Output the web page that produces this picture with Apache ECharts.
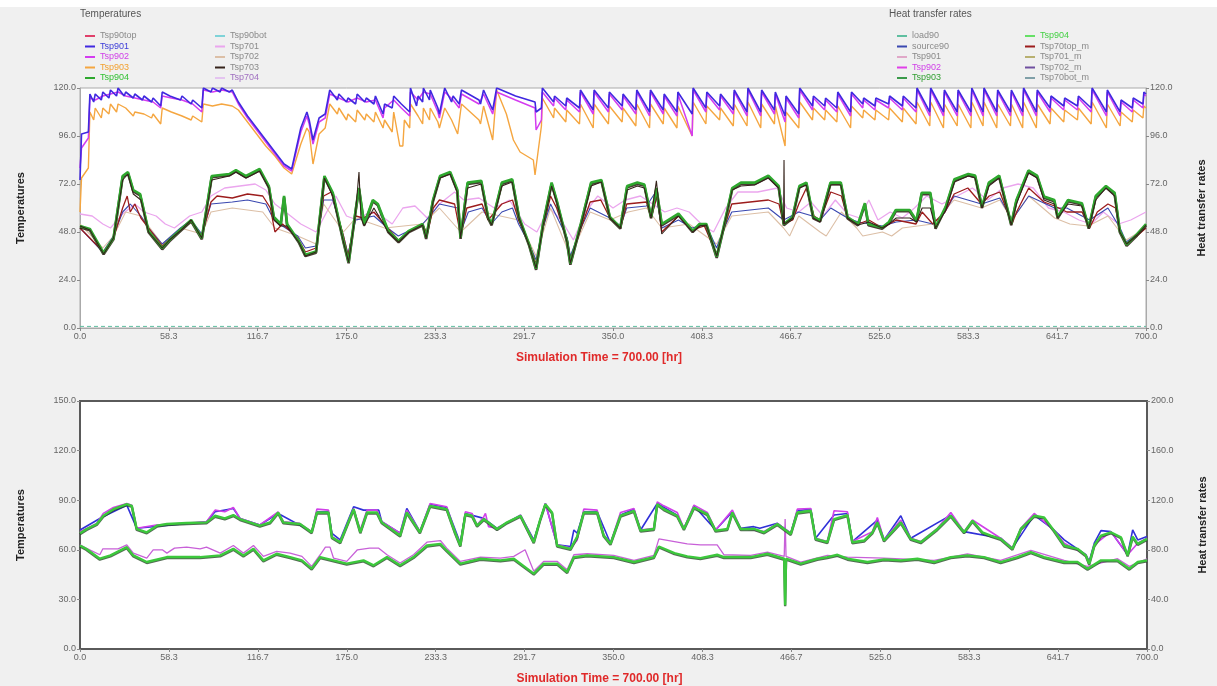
<!DOCTYPE html>
<html><head><meta charset="utf-8">
<script src="https://cdn.jsdelivr.net/npm/echarts@6/dist/echarts.min.js"></script>
<style>html,body{margin:0;padding:0;background:#f0f0f0}#c{width:1217px;height:686px}</style>
</head><body><div id="c"></div>
<script>
// ---------- axis ticks ----------
const xTicks = [0.0,58.3,116.7,175.0,233.3,291.7,350.0,408.3,466.7,525.0,583.3,641.7,700.0];
const topYTicks = [0,24,48,72,96,120];
const botYLeftTicks = [0,30,60,90,120,150];
const botYRightTicks = [0,40,80,120,160,200];

// ---------- TOP chart: upper group (irregular part, hours 0..300) ----------
const blueEarly = [[0,74],[1,97],[5.5,98],[6.5,117],[9,113],[10,117],[14,114],[15,118],[19,115],[20,119],[24,116],[25,120],[29,116],[30,118],[35,115],[36,117],[41,114],[42,116],[47,113],[48,115],[53,111],[54,118],[59,116],[60,117],[66,114],[67,116],[73,112],[74,114],[80,110],[81,120],[86,118],[87,120],[92,118],[93,120],[98,118],[100,119],[104,113],[110,106],[116,100],[122,94],[128,88],[134,82],[139,79.5],[145,100],[149,108],[150.5,104],[153,94],[157,105],[161,107],[164,119],[169,114],[170,117],[175,113],[176,115],[181,112],[182,117],[187,113],[188,115],[193,112],[194,116],[199,107],[200,112],[205,110],[206,116],[211,112],[216.5,108],[217,120],[221,111],[222,116],[225,113],[225.5,120],[229.5,114],[230,119],[235,110],[236,107],[239.5,120],[244,113],[245,116],[249,112],[250.5,119],[262,114],[263,112],[265,119],[271,109],[273.6,120],[286,116],[298.8,113],[299.5,108]];
const magentaEarly = [[0,80],[1,90],[5.5,95],[6.5,115],[10,114],[15,116],[20,117],[25,118],[30,116],[36,115],[42,114],[48,113],[53,110],[54,116],[60,115],[67,114],[74,112],[80,108],[81,119],[87,118],[93,119],[100,118],[104,112],[110,105],[116,99],[122,93],[128,87],[134,81],[139,78.5],[145,98],[149,106],[150.5,102],[153,92],[157,103],[161,105],[164,117],[170,115],[176,113],[182,115],[188,113],[194,114],[199,105],[200,110],[206,114],[211,110],[216.5,106],[217,118],[222,114],[225.5,118],[230,117],[235,108],[236,105],[239.5,118],[245,114],[249,110],[250.5,117],[262,112],[265,117],[271,107],[273.6,118],[286,114],[298.8,110],[299.5,99]];
const orangeEarly = [[0,58],[1,75],[5.5,80],[6.5,108],[9,104],[10,110],[14,105],[15,110],[19,107],[20,112],[24,108],[25,112],[30,110],[35,106],[36,108],[42,107],[47,105],[48,107],[53,102],[54,110],[60,108],[67,106],[73,104],[74,106],[80,103],[81,112],[87,111],[93,112],[100,111],[104,109],[110,103],[116,97],[122,91],[128,86],[134,80],[139,77],[145,92],[149,100],[150.5,98],[153,82],[157,97],[161,100],[164,112],[169,107],[170,110],[175,104],[176,107],[181,103],[182,109],[187,104],[188,107],[193,103],[194,108],[199,100],[200,104],[205,98],[206,108],[210,91],[212,91],[213,104],[216.5,100],[217,112],[222,106],[225,102],[225.5,110],[229.5,104],[230,110],[235,103],[236,100],[239.5,110],[244,104],[248,97],[249,103],[250.5,112],[262,104],[263,102],[265,111],[271,94],[273.6,119],[280,107],[284.6,94],[289,88],[297.7,84],[298.8,76.5]];

// ---------- TOP chart: upper group sawtooth (hours 303..700) ----------
const toothT = [303,311,319,328,337,347,356,365,374,383,392,402,411,420,429,438,447,456,463,472,481,489,497,506,514,522,531,540,549,558,567,576,585,593,602,611,619,628,637,646,655,664,674,683,691,698];
const blueHi = [120,116,115,119,119,118,117,119,119,117,118,120,118,117,119,120,119,118,116,120,116,115,118,118,115,115,116,116,120,120,119,119,120,120,119,119,120,119,116,115,116,120,119,114,115,118];
const blueLo = [110,113,111,110,109,110,111,109,108,109,108,107,110,111,109,108,108,109,106,107,111,111,110,108,112,111,112,111,110,108,108,108,108,108,108,108,108,108,110,111,111,110,108,108,110,112];
const magentaHi = [118,115,114,118,118,117,116,118,118,116,117,119,117,116,118,119,118,117,115,119,115,114,117,117,114,114,115,115,119,119,118,118,119,119,118,118,119,118,115,114,115,119,118,113,114,117];
const magentaLo = [104,111,109,108,107,108,109,107,106,107,106,96,108,109,107,106,106,107,103,105,109,109,108,106,110,109,110,109,108,106,106,106,106,106,106,106,106,106,108,109,109,108,106,106,108,110];
const orangeHi = [115,110,109,112,112,111,110,112,112,110,111,113,111,110,112,113,112,111,108,113,110,109,111,111,109,109,110,110,113,113,112,112,113,113,112,112,113,112,110,109,110,113,112,108,109,111];
const orangeLo = [101,105,103,102,100,102,103,101,100,102,100,96,102,104,101,101,100,102,91,100,104,104,103,100,105,104,104,103,102,101,100,101,100,101,100,101,100,100,102,103,104,102,100,101,103,105];
const blueTail = [[700,117]];
const magentaTail = [[700,116]];
const orangeTail = [[700,110]];

// ---------- TOP chart: middle group ----------
const greenMid = [[0,51],[6.5,49.5],[15.5,37.5],[22,45],[28,76],[31.5,78],[35,69],[39.5,67],[45,48.5],[54,40],[58.7,44],[66.5,49.5],[73,54],[80,45],[86.5,76],[98,77],[102.4,79],[109,76],[118,79.5],[124,71],[127.3,55.5],[131.8,52],[134,66],[136,52],[143.6,43.5],[148,36.6],[155,38.3],[160.5,76],[166,67.6],[173,43.5],[176.4,33],[181,59],[183.2,70],[186.6,52],[192.3,64],[195.6,62],[202.4,48.6],[209.2,43.5],[216,48.6],[225,52],[227.3,45.2],[231.8,64],[236.4,76],[243.1,78],[247.7,69.3],[249.9,45.2],[254.5,72.7],[263.5,73.6],[268,55.5],[270.3,52],[277,72.7],[283.8,74.4],[288.3,55.5],[295,41.7],[299.5,29.7],[304,52],[309.7,72.7],[313,64],[319.8,43.5],[322,32.3],[328.8,52],[335.6,72.7],[342.4,74],[348,55.5],[354.8,50.3],[359.3,71],[366,72.7],[370.6,71.8],[375,55.5],[378.5,70],[382,52],[393,57.2],[402.3,48.6],[406.8,52],[411.3,52],[418.1,35.7],[422.6,50.3],[428.3,70],[434,72.7],[443,72.7],[452,76.2],[458.8,71],[462.2,52],[467.9,55.5],[472.4,71],[477,72.7],[481.5,55.5],[486,53.8],[492.8,72.7],[499.6,72.7],[504,55.5],[510.9,52],[515.4,62.4],[517.7,52],[526.7,50.3],[531.2,53],[535.7,59],[544.8,59],[549.3,53.8],[552.7,67.6],[558.4,67.6],[561.8,50.3],[568.5,60.7],[574.2,74.4],[583.3,77],[587.8,76.2],[592.3,60.7],[596.8,72.7],[603.6,76.2],[611.5,52],[614.9,64],[622.8,78.8],[628.5,76.2],[633,65.8],[639.8,64],[642,55.5],[648.8,64],[657.9,62.4],[662.4,50.3],[667,66],[673.7,71],[679.4,67.6],[682.8,48.6],[687.3,41.7],[694.1,46.9],[700,52]];
const darkMid = [[0,51],[6.5,49],[15.5,37],[22,45],[28,74],[31.5,77],[35,67],[40,64],[45,48],[54,40],[58.7,44],[66.5,49],[73,54],[80,45],[86.5,74],[98,76],[102.4,78],[109,75],[118,78.5],[124,70],[127.3,54],[131.8,51],[136,51],[143.6,43],[148,36],[155,38],[160.5,75],[166,66],[173,43],[176.4,33],[181,58],[183.2,78],[184.5,55],[186.6,51],[193,60],[202.4,48],[209.2,43],[216,48],[225,51.5],[227.3,45],[231.8,63],[236.4,75],[243.1,77],[247.7,68],[249.9,45],[254.5,70],[263.5,72],[268,55],[270.3,51.5],[277,71],[283.8,73],[288.3,55],[295,41],[299.5,30],[304,51],[309.7,71],[313,63],[319.8,43],[322,32.5],[328.8,51],[335.6,71],[342.4,73],[348,55],[354.8,50],[359.3,69],[366,71],[370.6,70],[375,55],[378.5,73.6],[382,47],[393,56],[402.3,48],[406.8,51],[411.3,51.5],[418.1,36],[422.6,50],[428.3,69],[434,71],[443,71.5],[452,75],[458.8,70],[462,52],[462.3,84],[462.6,52],[467.9,55],[472.4,70],[477,71.5],[481.5,55],[486,53],[492.8,71.5],[499.6,71.5],[504,55],[510.9,51.5],[518,53],[526.7,50],[531.2,52],[536,55],[545,55],[549.3,53],[553,60],[558.4,60],[561.8,50],[568.5,59],[574.2,73],[583.3,76],[587.8,75],[592.3,60],[596.8,71],[603.6,75],[611.5,51.5],[614.9,62],[622.8,77.5],[628.5,75],[633,64],[639.8,62],[642,55],[648.8,62],[657.9,61],[662.4,50],[667,64],[673.7,70],[679.4,66],[682.8,48],[687.3,42],[694.1,46.5],[700,51.5]];
const redMid = [[0,50],[15.5,38],[22,45],[28,60],[31,66],[33,58],[36,62],[40,55],[45,50],[54,41],[66,49],[73,53],[80,46],[86,63],[90,66],[100,65],[110,67],[120,66],[125,60],[128,48],[133,52],[143,45],[148,38],[155,40],[160,66],[165,68],[173,46],[176,36],[181,56],[186,55],[193,58],[202,50],[209,44],[216,48],[225,52],[228,47],[232,60],[236,64],[246,62],[250,46],[254,60],[264,62],[268,54],[277,62],[284,64],[288,54],[295,42],[299.5,32],[304,50],[309,66],[313,60],[320,44],[322,34],[329,50],[335,63],[342,64],[348,55],[355,50],[359,62],[372,63],[375,55],[379,66],[382,48],[393,56],[402,49],[410,51],[418,37],[423,50],[428,62],[452,64],[459,62],[462,52],[468,54],[472,62],[477,70],[482,56],[486,54],[493,68],[500,66],[504,55],[511,52],[518,54],[527,50],[536,54],[549,52],[553,58],[560,52],[568,58],[574,67],[583,70],[592,62],[597,66],[604,68],[612,52],[615,58],[623,70],[633,63],[640,61],[648,58],[658,58],[663,50],[668,58],[675,62],[680,60],[683,48],[687,42],[694,46],[700,50]];
const navyMid = [[0,50],[15,38],[22,46],[28,58],[33,62],[40,56],[45,50],[54,42],[66,50],[73,54],[80,47],[86,62],[100,63],[110,64],[122,62],[126,56],[131,52],[143,46],[148,40],[155,41],[160,64],[166,64],[173,46],[176,37],[181,54],[193,56],[202,50],[209,46],[225,52],[232,58],[236,62],[248,60],[250,48],[255,58],[264,60],[270,52],[277,58],[284,60],[288,52],[295,42],[299.5,34],[304,50],[309,62],[320,45],[322,36],[329,50],[335,60],[348,55],[355,51],[359,60],[372,61],[378,68],[382,50],[393,54],[402,50],[411,52],[418,40],[423,50],[428,58],[452,60],[462,54],[472,58],[481,56],[486,54],[493,60],[504,55],[511,53],[527,51],[536,53],[549,54],[560,52],[568,58],[574,66],[592,62],[604,65],[612,54],[623,66],[640,60],[648,60],[663,54],[675,60],[683,50],[687,43],[700,50]];
const pinkMid = [[0,57],[8,56],[15,52],[20,50],[28,57],[36,62],[42,58],[50,56],[56,52],[62,50],[72,56],[80,58],[86,66],[95,70],[105,71],[115,72],[122,69],[128,62],[135,58],[145,52],[155,48],[162,58],[168,66],[175,56],[182,54],[190,58],[198,56],[205,52],[212,60],[220,61],[228,55],[236,62],[246,68],[252,64],[262,65],[272,60],[282,64],[292,52],[300,48],[308,60],[316,54],[324,44],[332,58],[340,66],[350,60],[358,64],[368,66],[376,62],[384,58],[392,60],[400,58],[408,52],[416,48],[424,60],[432,68],[445,68],[458,70],[464,60],[472,58],[480,63],[488,56],[496,64],[504,57],[512,55],[518,64],[524,54],[532,58],[540,55],[548,60],[556,66],[566,62],[576,66],[586,70],[596,64],[606,70],[616,72],[626,70],[636,60],[646,58],[656,54],[664,52],[672,58],[682,52],[690,54],[700,58]];
const tanMid = [[0,52],[15,40],[22,46],[30,58],[40,56],[54,42],[66,50],[80,47],[86,58],[100,60],[120,58],[128,50],[143,46],[155,42],[160,62],[173,48],[181,55],[200,50],[225,52],[236,60],[250,48],[264,58],[288,54],[299.5,36],[309,60],[322,36],[335,58],[348,54],[360,58],[372,60],[382,50],[400,52],[418,42],[428,56],[452,58],[462,50],[466,46],[472,56],[486,48],[490,46],[500,58],[510,50],[514,46],[527,48],[533,46],[540,50],[560,52],[574,64],[592,60],[604,64],[612,54],[623,66],[640,55],[650,52],[662,51],[675,56],[687,44],[700,50]];
const loadTop = [[0,0.8],[700,0.8]];

// ---------- BOTTOM chart ----------
const greenUpper = [[0,70],[4.4,72.6],[11,75.6],[15.3,80.6],[21.9,84.6],[30.7,87.6],[34,86.6],[37.2,72.6],[43.8,70.6],[50.4,74.6],[57,75.6],[70,76.2],[83,76.6],[88.6,80.6],[95,79],[100.6,81],[105,78.6],[118,74.6],[124.8,76.6],[130,82.6],[133.4,76.6],[144.4,75.6],[152,70.6],[155.4,82.6],[163,82.6],[165.3,67.6],[170.7,64.6],[179.5,84.6],[183.9,70.6],[188.3,82.6],[194.8,82.6],[198,76.6],[210,68.6],[214.4,82.6],[223,70.6],[229.7,86.6],[240.6,84.6],[246,70.6],[249.5,62.6],[252.8,81.6],[257.2,80.6],[260.5,74.6],[264.9,78.6],[273.6,72.6],[280.2,76.6],[289,80.6],[297.7,64.6],[302,78.6],[305.3,87.6],[309.7,82.6],[313,62.6],[321.8,60.6],[326.2,68],[330.5,82.6],[339.3,82.6],[343.6,68.6],[348,63.6],[354.6,80.6],[363.4,83.6],[367.8,71.6],[376.5,72.6],[378.7,87.6],[383,84.6],[391.8,80.6],[396.2,72.6],[402.8,85.6],[411.5,81.6],[417,71.6],[424.7,72.6],[428,82.6],[433.4,72.6],[442.2,72.6],[448.8,70.6],[457.5,75.6],[466.3,69.6],[470.6,82.6],[479.4,83.6],[482.6,66.6],[490.3,64.6],[494.7,78.6],[503.5,81],[506.7,64.6],[514.4,65.6],[519.9,70.6],[523.1,76.6],[527.5,65.6],[538.5,76.6],[545,66.6],[551.6,64.6],[562.5,72.6],[571.3,80.6],[580,70.6],[585.5,77.6],[592,70.6],[597.5,68.6],[604,66.6],[611.7,60.6],[617.2,72.6],[626,80.6],[632.5,79.6],[639,71.6],[645.7,62.6],[654.4,60.6],[659.9,56.6],[662.1,51.6],[665.4,62.6],[669.8,68.6],[676.3,70.6],[682.9,67.6],[687.3,56.6],[690.6,68],[693.9,63.6],[700,66.6]];
const magentaUpper = [[0,71],[11,76],[15.3,82],[21.9,85.6],[30.7,88],[34,87],[37.2,73],[50,75],[83,77],[88.6,84],[95,83],[100.6,85.6],[105,79],[118,75],[130,83],[133.4,77],[144,76],[152,71],[155.4,84.6],[163,84],[165.3,68],[170.7,65],[179.5,85],[183.9,72],[188.3,84],[194.8,84],[198,77],[210,70],[214.4,84],[223,71],[229.7,88],[240.6,86],[246,71],[249.5,63],[252.8,83],[257.2,82],[260.5,75],[264.9,80],[266,82],[268,74],[273.6,73],[289,81],[297.7,65],[305.3,88],[313,63],[321.8,61],[326.2,66],[330.5,84.6],[339.3,84],[343.6,69],[348,64],[354.6,82.6],[363.4,85],[367.8,72],[376.5,73],[378.7,89],[383,86.6],[391.8,82.6],[396.2,73],[402.8,87],[411.5,82.6],[417,72],[428,84],[433.4,73],[448.8,71],[457.5,76],[466.3,70],[470.6,84.6],[479.4,85],[482.6,67],[490.3,65],[494.7,83.6],[503.5,83],[506.7,65],[519.9,71],[523.1,79.6],[527.5,66],[538.5,78],[545,67],[551.6,65],[562.5,73],[571.3,82.6],[580,71],[585.5,78],[604,67],[611.7,61],[617.2,73],[626,82],[639,72],[645.7,64],[659.9,57],[662.1,52],[665.4,63],[676.3,71],[687.3,57],[693.9,64],[700,67]];
const blueUpper = [[0,72],[15,80],[30.7,87],[37.2,73],[83,77],[88.6,83],[100.6,85],[105,79],[118,75],[130,82],[152,71],[155.4,83],[163,83],[165.3,70],[170.7,66],[179.5,86],[186,84],[188.3,84],[196,84],[198,77],[210,70],[214.4,85],[223,71],[229.7,87.6],[240.6,85.6],[249.5,64],[252.8,82],[264.9,79],[273.6,73],[289,81],[297.7,66],[305.3,88],[313,63],[321.8,62],[324,72],[326.2,70],[330.5,83],[339.3,83],[348,64],[354.6,81],[363.4,84.6],[367.8,72],[378.7,88],[391.8,81],[396.2,73],[402.8,86.6],[417,72],[428,83],[433.4,73],[442,74],[446,73],[457.5,76],[466.3,70],[470.6,83.6],[479.4,84.6],[482.6,67],[494.7,81],[503.5,82],[506.7,65],[523.1,78],[527.5,66],[538.5,80.6],[545,67],[571.3,81],[580,71],[604,67],[611.7,61],[626,81],[639,72],[645.7,66],[659.9,57],[662.1,53],[665.4,64],[669.8,71.6],[676.3,71],[687.3,57],[690.6,72],[693.9,66],[700,68]];
const greenLower = [[0,62.6],[4,60.6],[13,54.6],[20,56.6],[30.7,61.6],[35,56.6],[43.8,52.6],[57,55.6],[78.8,55.6],[92,56.6],[100.6,60.6],[107.2,56.6],[113.8,60.6],[120.3,53.6],[129,57.6],[137.8,55.6],[145.6,53.6],[152,48.6],[157.6,55.6],[166.3,53.6],[175,51.6],[186,53.6],[192.6,50.6],[201.4,55.6],[210,50.6],[218.8,55.6],[227.6,62.6],[236.4,63.6],[240.6,59.6],[249.5,51.6],[262.7,54.6],[275.8,53.6],[284.6,54.6],[297.7,45.6],[304.2,51.6],[313,51.6],[319.6,46.6],[324,55.6],[332.7,56.6],[350.2,55.6],[363.4,52.6],[376.5,55.6],[379.8,62],[390,58],[398.4,56],[407,55],[418,57],[422.5,55.6],[440,55.6],[451,57.6],[462,54.6],[462.6,26.5],[463.2,54.6],[472.8,51.6],[483.7,54.6],[490.3,55.6],[496.9,57],[503.5,54.6],[516.6,52.6],[527.5,54.2],[538.5,53.6],[549.4,54.6],[560.3,52.6],[571.3,55.6],[582.2,56.6],[593.1,55.6],[604,52.6],[615,55.6],[623.8,58.6],[632.5,55.6],[645.7,52.6],[654.4,52.6],[661,48.6],[669.8,53.6],[680.7,53.6],[688.4,48.6],[693.9,52.6],[700,53.6]];
const magentaLower = [[0,63],[4,61],[13,57],[15,60.6],[25,60.6],[30.7,63],[35,58],[43.8,55],[48,60],[54,60],[57,58],[62,61],[70,61.6],[78.8,60.6],[83,61.6],[92,58],[100.6,62.6],[107.2,58],[113.8,62.6],[120.3,56],[129,59],[137.8,58],[145.6,56],[152,50],[157.6,57],[161,61.6],[164,61.6],[166.3,55],[175,53],[182,60],[190,61],[196,61],[201.4,57],[210,52],[218.8,57],[227.6,64.6],[236.4,65.6],[240.6,61],[249.5,53],[262.7,55.6],[275.8,55],[284.6,56],[292,60],[297.7,47],[304.2,53],[313,53],[319.6,48],[324,57],[332.7,57.6],[350.2,56.6],[363.4,53.6],[376.5,56.6],[379.8,66.6],[398.4,63.6],[407,63],[418,63],[422.5,57],[440,56.6],[451,58.6],[462,56],[462.6,78.6],[463.2,56],[472.8,52.6],[490.3,56.6],[503.5,55.6],[527.5,55],[560.3,53.6],[582.2,57.6],[604,53.6],[623.8,59.6],[645.7,53.6],[661,50],[680.7,54.6],[688.4,50],[700,54.6]];

// ---------- build ----------
function withTeeth(early, tt, lo, hi, tail) {
  const d = early.slice();
  for (let i = 0; i < tt.length; i++) { d.push([tt[i], lo[i]]); d.push([tt[i] + 0.6, hi[i]]); }
  return d.concat(tail);
}
const fmt1 = v => Number(v).toFixed(1);

function ln(name, data, color, width, xi, yi, extra) {
  return Object.assign({
    name, type: 'line', data, xAxisIndex: xi, yAxisIndex: yi,
    showSymbol: false, symbol: 'none', animation: false, silent: true,
    itemStyle: { color }, lineStyle: { color, width }
  }, extra || {});
}

const series = [
  ln('Tsp90top', [], '#e0406a', 1.5, 0, 0),
  ln('Tsp90bot', [], '#7fd3d8', 1.5, 0, 0),
  ln('Tsp704', [], '#e4c4f0', 1.5, 0, 0),
  ln('Tsp701', pinkMid, '#eba6ee', 1.3, 0, 0),
  ln('Tsp702', tanMid, '#dcbfa6', 1.1, 0, 0),
  ln('source90', navyMid, '#3a48b0', 1.1, 0, 1),
  ln('Tsp70top_m', redMid, '#9c1c1c', 1.3, 0, 1),
  ln('Tsp904', greenMid, '#2ea82e', 2.6, 0, 0, { lineStyle: { color: '#2ea82e', width: 2.6, shadowColor: 'rgba(40,25,15,0.85)', shadowBlur: 0, shadowOffsetY: 1.3 } }),
  ln('Tsp703', darkMid, '#35231b', 1.1, 0, 0),
  ln('Tsp903', withTeeth(orangeEarly, toothT, orangeLo, orangeHi, orangeTail), '#f5a640', 1.4, 0, 0),
  ln('Tsp902', withTeeth(magentaEarly, toothT, magentaLo, magentaHi, magentaTail), '#d43cf0', 1.5, 0, 0),
  ln('Tsp901', withTeeth(blueEarly, toothT, blueLo, blueHi, blueTail), '#4028e0', 1.6, 0, 0),
  ln('load90', loadTop, '#5fbfa0', 1, 0, 1, { lineStyle: { color: '#5fbfa0', width: 1, type: [4, 3] } }),
  ln('Tsp901 ', [], '#e0a8c8', 1.5, 0, 1),
  ln('Tsp902 ', [], '#e040e8', 1.5, 0, 1),
  ln('Tsp903 ', [], '#3a9a4a', 1.5, 0, 1),
  ln('Tsp904 ', [], '#66e066', 1.5, 0, 1),
  ln('Tsp701_m', [], '#b8b070', 1.5, 0, 1),
  ln('Tsp702_m', [], '#7050a0', 1.5, 0, 1),
  ln('Tsp70bot_m', [], '#80a0a8', 1.5, 0, 1),
  // bottom chart
  ln('b_magLower', magentaLower, '#c860d8', 1.3, 1, 2),
  ln('b_greenLower', greenLower, '#3cc83c', 2.4, 1, 2, { lineStyle: { color: '#3cc83c', width: 2.4, shadowColor: 'rgba(40,70,40,0.8)', shadowBlur: 0, shadowOffsetY: 1 } }),
  ln('b_blueUpper', blueUpper, '#3030d8', 1.6, 1, 2),
  ln('b_magUpper', magentaUpper, '#d040e8', 1.6, 1, 2),
  ln('b_greenUpper', greenUpper, '#3cc83c', 2.4, 1, 2, { lineStyle: { color: '#3cc83c', width: 2.4, shadowColor: 'rgba(40,70,40,0.8)', shadowBlur: 0, shadowOffsetY: 1 } })
];

const legendCommon = {
  orient: 'vertical', icon: 'rect', itemWidth: 10, itemHeight: 2, itemGap: 0.5,
  textStyle: { fontSize: 9, color: '#8a8a8a', lineHeight: 10, fontFamily: 'Liberation Sans' },
  formatter: n => n.trim(), selectedMode: false
};
const L = (name, color) => color ? { name, textStyle: { color } } : { name };
const legends = [
  Object.assign({}, legendCommon, { left: 80, top: 26, data: [L('Tsp90top'), L('Tsp901', '#3c3cd8'), L('Tsp902', '#d040e8'), L('Tsp903', '#f2a030'), L('Tsp904', '#33c033')] }),
  Object.assign({}, legendCommon, { left: 210, top: 26, data: [L('Tsp90bot'), L('Tsp701'), L('Tsp702'), L('Tsp703'), L('Tsp704', '#a070c0')] }),
  Object.assign({}, legendCommon, { left: 892, top: 26, data: [L('load90'), L('source90'), L('Tsp901 '), L('Tsp902 ', '#d040e8'), L('Tsp903 ', '#33a033')] }),
  Object.assign({}, legendCommon, { left: 1020, top: 26, data: [L('Tsp904 ', '#44d044'), L('Tsp70top_m'), L('Tsp701_m'), L('Tsp702_m'), L('Tsp70bot_m')] })
];

const labelStyle = { fontSize: 9, color: '#666', fontFamily: 'Liberation Sans' };
function xAx(gi, lineColor) {
  return {
    type: 'value', gridIndex: gi, min: xTicks[0], max: xTicks[xTicks.length - 1], interval: 700 / 12,
    axisLine: { show: true, onZero: false, lineStyle: { color: lineColor } },
    axisTick: { show: true, length: 3, lineStyle: { color: '#888' } },
    axisLabel: Object.assign({ margin: 4, formatter: fmt1, showMaxLabel: true, showMinLabel: true }, labelStyle),
    splitLine: { show: false },
    name: 'Simulation Time = 700.00 [hr]', nameLocation: 'middle', nameGap: 24,
    nameTextStyle: { color: '#e02a2a', fontWeight: 'bold', fontSize: 12, fontFamily: 'Liberation Sans', padding: [0, 28, 0, 0] }
  };
}
function yAx(gi, ticks, pos, name, lineColor) {
  return {
    type: 'value', gridIndex: gi, position: pos, min: ticks[0], max: ticks[ticks.length - 1], interval: ticks[1] - ticks[0],
    axisLine: { show: true, lineStyle: { color: lineColor } },
    axisTick: { show: true, length: 3, lineStyle: { color: '#888' } },
    axisLabel: Object.assign({ margin: 4, formatter: fmt1 }, labelStyle),
    splitLine: { show: false },
    name, nameLocation: 'middle', nameRotate: 90, nameGap: pos === 'left' ? 54 : 50,
    nameTextStyle: { color: '#222', fontWeight: 'bold', fontSize: 11, fontFamily: 'Liberation Sans' }
  };
}

const option = {
  backgroundColor: '#f0f0f0',
  animation: false,
  graphic: [
    { type: 'rect', left: 0, top: 0, shape: { width: 1217, height: 7 }, style: { fill: '#ffffff' }, silent: true },
    { type: 'text', left: 80, top: 9, style: { text: 'Temperatures', fontSize: 10, fill: '#555', fontFamily: 'Liberation Sans' }, silent: true },
    { type: 'text', left: 889, top: 9, style: { text: 'Heat transfer rates', fontSize: 10, fill: '#555', fontFamily: 'Liberation Sans' }, silent: true }
  ],
  legend: legends,
  grid: [
    { left: 80, top: 88, width: 1066, height: 240, show: true, backgroundColor: '#ffffff', borderColor: '#aaaaaa', borderWidth: 1 },
    { left: 80, top: 401, width: 1067, height: 250, show: true, backgroundColor: '#ffffff', borderColor: '#5a5a5a', borderWidth: 2 }
  ],
  xAxis: [xAx(0, '#aaaaaa'), xAx(1, '#5a5a5a')],
  yAxis: [
    yAx(0, topYTicks, 'left', 'Temperatures', '#aaaaaa'),
    yAx(0, topYTicks, 'right', 'Heat transfer rates', '#aaaaaa'),
    yAx(1, botYLeftTicks, 'left', 'Temperatures', '#5a5a5a'),
    yAx(1, botYRightTicks, 'right', 'Heat transfer rates', '#5a5a5a')
  ],
  series
};
const chart = echarts.init(document.getElementById('c'), null, { renderer: 'canvas' });
chart.setOption(option);
</script></body></html>
